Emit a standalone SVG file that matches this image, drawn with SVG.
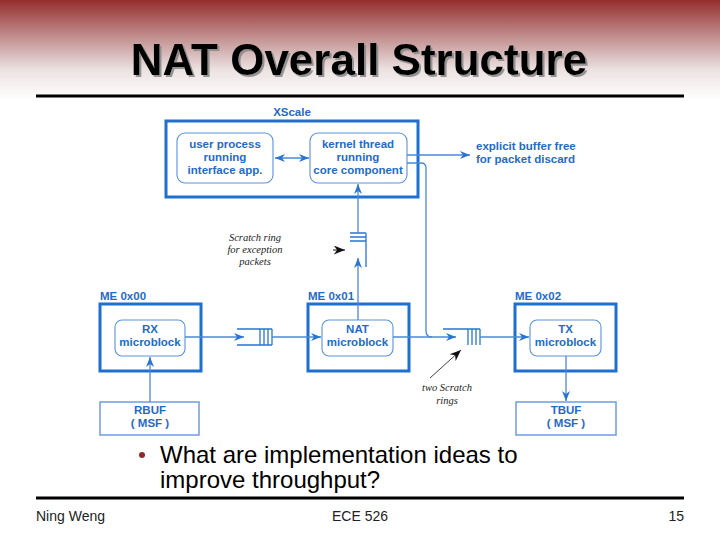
<svg xmlns="http://www.w3.org/2000/svg" width="720" height="540" viewBox="0 0 720 540">
<defs>
<linearGradient id="bg" x1="0" y1="0" x2="0" y2="1">
<stop offset="0" stop-color="#952e2e"/>
<stop offset="0.35" stop-color="#bf8a8a"/>
<stop offset="0.7" stop-color="#ece2e2"/>
<stop offset="1" stop-color="#ffffff"/>
</linearGradient>
<filter id="shadow" x="-5%" y="-20%" width="110%" height="140%">
<feDropShadow dx="2" dy="2" stdDeviation="0.6" flood-color="#8a8a8a" flood-opacity="0.9"/>
</filter>
<marker id="ah" viewBox="0 0 10 8" refX="10" refY="4" markerWidth="10" markerHeight="8" markerUnits="userSpaceOnUse" orient="auto-start-reverse">
<path d="M0,0 L10,4 L0,8 L3,4 z" fill="#2a74d2"/>
</marker>
<marker id="bh" viewBox="0 0 10 8" refX="10" refY="4" markerWidth="12" markerHeight="9" markerUnits="userSpaceOnUse" orient="auto">
<path d="M0,0 L10,4 L0,8 L3,4 z" fill="#111"/>
</marker>
</defs>
<style>
.outer{fill:none;stroke:#1f6fd0;stroke-width:3}
.inner{fill:#fff;stroke:#5b92d8;stroke-width:1.1}
.buf{fill:#fff;stroke:#6c9de0;stroke-width:1.5}
.bt{font-family:"Liberation Sans",Arial,sans-serif;font-weight:bold;font-size:11.5px;fill:#1f6bc8}
.c{text-anchor:middle}
.con{fill:none;stroke:#4a88d6;stroke-width:1.3}
.ring{fill:none;stroke:#2a74d2;stroke-width:1.3}
.it{font-family:"Liberation Serif","Times New Roman",serif;font-style:italic;font-size:10.5px;fill:#222;text-anchor:middle}
.body{font-family:"Liberation Sans",Arial,sans-serif;font-size:24px;fill:#000}
.foot{font-family:"Liberation Sans",Arial,sans-serif;font-size:14px;fill:#222}
</style>
<rect x="0" y="0" width="720" height="100" fill="url(#bg)"/>
<text x="359" y="75" text-anchor="middle" font-family="'Liberation Sans',Arial,sans-serif" font-weight="bold" font-size="44" fill="#000" filter="url(#shadow)">NAT Overall Structure</text>
<rect x="36" y="94.5" width="648" height="3" fill="#000"/>

<g id="xscale">
<rect class="outer" x="166" y="121" width="252" height="76"/>
<text class="bt c" x="292" y="116">XScale</text>
</g>
<g id="user-process">
<rect class="inner" x="177" y="133" width="96" height="50" rx="8"/>
<text class="bt c" x="225" y="148">user process</text>
<text class="bt c" x="225" y="161">running</text>
<text class="bt c" x="225" y="174">interface app.</text>
</g>
<g id="kernel-thread">
<rect class="inner" x="310" y="133" width="97" height="50" rx="8"/>
<text class="bt c" x="358" y="148">kernel thread</text>
<text class="bt c" x="358" y="161">running</text>
<text class="bt c" x="358" y="174">core component</text>
</g>
<g id="buffer-free">
<text class="bt" x="476" y="150">explicit buffer free</text>
<text class="bt" x="476" y="163">for packet discard</text>
</g>
<g id="me0">
<rect class="outer" x="100" y="304" width="101" height="67"/>
<text class="bt" x="100" y="300">ME 0x00</text>
</g>
<g id="rx">
<rect class="inner" x="115" y="320" width="70" height="36" rx="7"/>
<text class="bt c" x="150" y="333">RX</text>
<text class="bt c" x="150" y="346">microblock</text>
</g>
<g id="me1">
<rect class="outer" x="308" y="304" width="101" height="67"/>
<text class="bt" x="308" y="300">ME 0x01</text>
</g>
<g id="nat">
<rect class="inner" x="322" y="320" width="71" height="36" rx="7"/>
<text class="bt c" x="357.5" y="333">NAT</text>
<text class="bt c" x="357.5" y="346">microblock</text>
</g>
<g id="me2">
<rect class="outer" x="515" y="304" width="101" height="67"/>
<text class="bt" x="515" y="300">ME 0x02</text>
</g>
<g id="tx">
<rect class="inner" x="530" y="320" width="71" height="36" rx="7"/>
<text class="bt c" x="565.5" y="333">TX</text>
<text class="bt c" x="565.5" y="346">microblock</text>
</g>
<g id="rbuf">
<rect class="buf" x="100" y="402" width="99" height="33"/>
<text class="bt c" x="150" y="414">RBUF</text>
<text class="bt c" x="150" y="427">( MSF )</text>
</g>
<g id="tbuf">
<rect class="buf" x="516" y="402" width="100" height="33"/>
<text class="bt c" x="566" y="414">TBUF</text>
<text class="bt c" x="566" y="427">( MSF )</text>
</g>
<g id="ring-exception">
<path class="ring" d="M350,233 H366 M350,237 H366 M350,241 H366 M366,233 V267"/>
<text class="it" x="255" y="241">Scratch ring</text>
<text class="it" x="255" y="253">for exception</text>
<text class="it" x="255" y="265">packets</text>
</g>
<g id="ring-rx-nat">
<path class="ring" d="M237,329 H272 M237,345 H272 M260,329 V345 M264,329 V345 M268,329 V345 M272,329 V345"/>
</g>
<g id="ring-nat-tx">
<path class="ring" d="M443,329 H480 M468,329 V345 M472,329 V345 M476,329 V345 M480,329 V345"/>
<text class="it" x="447" y="391">two Scratch</text>
<text class="it" x="447" y="404">rings</text>
</g>

<g id="connectors">
<line class="con" x1="275" y1="158" x2="309" y2="158" marker-start="url(#ah)" marker-end="url(#ah)"/>
<line class="con" x1="407" y1="155" x2="470" y2="155" marker-end="url(#ah)"/>
<path class="con" d="M407,163 H421 Q426,163 426,168 V331 Q426,337 432,337"/>
<line class="con" x1="358" y1="233" x2="358" y2="184" marker-end="url(#ah)"/>
<line class="con" x1="358" y1="320" x2="358" y2="258" marker-end="url(#ah)"/>
<line class="con" x1="185" y1="337" x2="244" y2="337" marker-end="url(#ah)"/>
<line class="con" x1="272" y1="337" x2="321" y2="337" marker-end="url(#ah)"/>
<line class="con" x1="393" y1="337" x2="456" y2="337" marker-end="url(#ah)"/>
<line class="con" x1="480" y1="337" x2="529" y2="337" marker-end="url(#ah)"/>
<line class="con" x1="150" y1="402" x2="150" y2="357" marker-end="url(#ah)"/>
<line class="con" x1="566" y1="356" x2="566" y2="401" marker-end="url(#ah)"/>
<line x1="333" y1="250" x2="345" y2="250" stroke="#111" stroke-width="1" marker-end="url(#bh)"/>
<line x1="430" y1="378" x2="461" y2="350" stroke="#111" stroke-width="0.8" marker-end="url(#bh)"/>
</g>

<circle cx="142" cy="455" r="3" fill="#8e2a2a"/>
<text class="body" x="160" y="463">What are implementation ideas to</text>
<text class="body" x="160" y="488">improve throughput?</text>
<rect x="36" y="496.5" width="648" height="3" fill="#000"/>
<text class="foot" x="36" y="521">Ning Weng</text>
<text class="foot" x="360" y="521" text-anchor="middle">ECE 526</text>
<text class="foot" x="684" y="521" text-anchor="end">15</text>
</svg>
